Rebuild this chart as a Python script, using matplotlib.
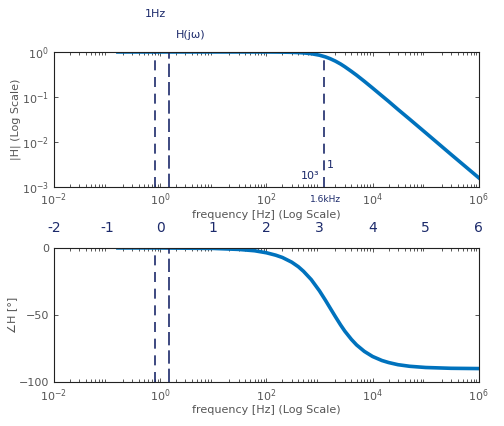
import matplotlib
matplotlib.use("Agg")
import matplotlib.pyplot as plt
from matplotlib.ticker import LogLocator, FixedLocator

# ===== DATA =====
freq_hz = [0.16, 1, 10, 30, 60, 100, 150, 200, 300, 400, 500, 700, 1000, 1300, 1600,
           2000, 2500, 3000, 4000, 5000, 7000, 1e4, 1.5e4, 2e4, 3e4, 5e4, 1e5, 3e5, 1e6]
mag = [1.0, 1.0, 1.0, 1.0, 0.999, 0.998, 0.996, 0.992, 0.983, 0.97, 0.954, 0.916,
       0.848, 0.776, 0.707, 0.625, 0.54, 0.47, 0.37, 0.305, 0.223, 0.158, 0.106,
       0.08, 0.053, 0.032, 0.016, 0.0053, 0.0016]
phase_deg = [0, -0.04, -0.36, -1.1, -2.1, -3.6, -5.4, -7.1, -10.6, -14, -17.4, -23.6,
             -32, -39.1, -45, -51.3, -57.4, -62, -68.2, -72.3, -77.1, -80.9, -83.9,
             -85.4, -87, -88.2, -89.1, -89.7, -89.9]

xticks = [1e-2, 1e0, 1e2, 1e4, 1e6]
mag_ticks = [1e-3, 1e-2, 1e-1, 1e0]
phase_ticks = [-100, -50, 0]
decade_notes = ["-2", "-1", "0", "1", "2", "3", "4", "5", "6"]

LINE = "#0072BD"
GRAY = "#555555"
INK = "#1c2a6b"

plt.rcParams['font.family'] = ['DejaVu Sans']
fig = plt.figure(figsize=(5.04, 4.26), dpi=100)
ax1 = fig.add_axes([0.107, 0.561, 0.843, 0.317])
ax2 = fig.add_axes([0.107, 0.103, 0.843, 0.315])

def style(ax):
    ax.set_xscale("log")
    ax.set_xlim(1e-2, 1e6)
    ax.xaxis.set_major_locator(FixedLocator(xticks))
    ax.xaxis.set_minor_locator(LogLocator(base=10, subs=range(2, 10), numticks=20))
    ax.tick_params(which="both", direction="in", top=True, right=True,
                   colors=GRAY, labelsize=8, width=0.7)
    ax.tick_params(which="major", length=3)
    ax.tick_params(which="minor", length=2)
    for s in ax.spines.values():
        s.set_color("#222222")
        s.set_linewidth(0.8)
    ax.set_xlabel("frequency [Hz] (Log Scale)", color=GRAY, fontsize=8, labelpad=1)

# ===== MAGNITUDE =====
ax1.plot(freq_hz, mag, color=LINE, lw=2.6)
style(ax1)
ax1.set_yscale("log")
ax1.set_ylim(1e-3, 1e0)
ax1.yaxis.set_major_locator(FixedLocator(mag_ticks))
ax1.yaxis.set_minor_locator(FixedLocator([]))
ax1.set_ylabel("|H| (Log Scale)", color=GRAY, fontsize=8, labelpad=1)

# ===== PHASE =====
ax2.plot(freq_hz, phase_deg, color=LINE, lw=2.6)
style(ax2)
ax2.set_ylim(-100, 0)
ax2.yaxis.set_major_locator(FixedLocator(phase_ticks))
ax2.set_ylabel("∠H [°]", color=GRAY, fontsize=8, labelpad=1)

# ===== HANDWRITTEN NOTES =====
for ax in (ax1, ax2):
    ax.axvline(0.8, color=INK, lw=1.2, ls=(0, (6, 4)))
    ax.axvline(1.5, color=INK, lw=1.2, ls=(0, (8, 3)))
ax1.axvline(1200, ymin=0.0, ymax=0.98, color=INK, lw=1.2, ls=(0, (6, 4)))
ax1.text(0.8, 1.26, "1Hz", color=INK, fontsize=8, ha="center", transform=ax1.get_xaxis_transform())
ax1.text(2.0, 1.1, "H(jω)", color=INK, fontsize=8, ha="left", transform=ax1.get_xaxis_transform())
ax1.text(1000, 0.06, "10³", color=INK, fontsize=8, ha="right", transform=ax1.get_xaxis_transform())
ax1.text(1400, 0.14, "1", color=INK, fontsize=8, ha="left", transform=ax1.get_xaxis_transform())
ax1.text(1300, -0.11, "1.6kHz", color=INK, fontsize=6.5, ha="center", transform=ax1.get_xaxis_transform())
for i, note in enumerate(decade_notes):
    ax1.text(10.0 ** (i - 2), -0.33, note, color=INK, fontsize=10, ha="center",
             transform=ax1.get_xaxis_transform())

fig.savefig("out.png", dpi=100)
